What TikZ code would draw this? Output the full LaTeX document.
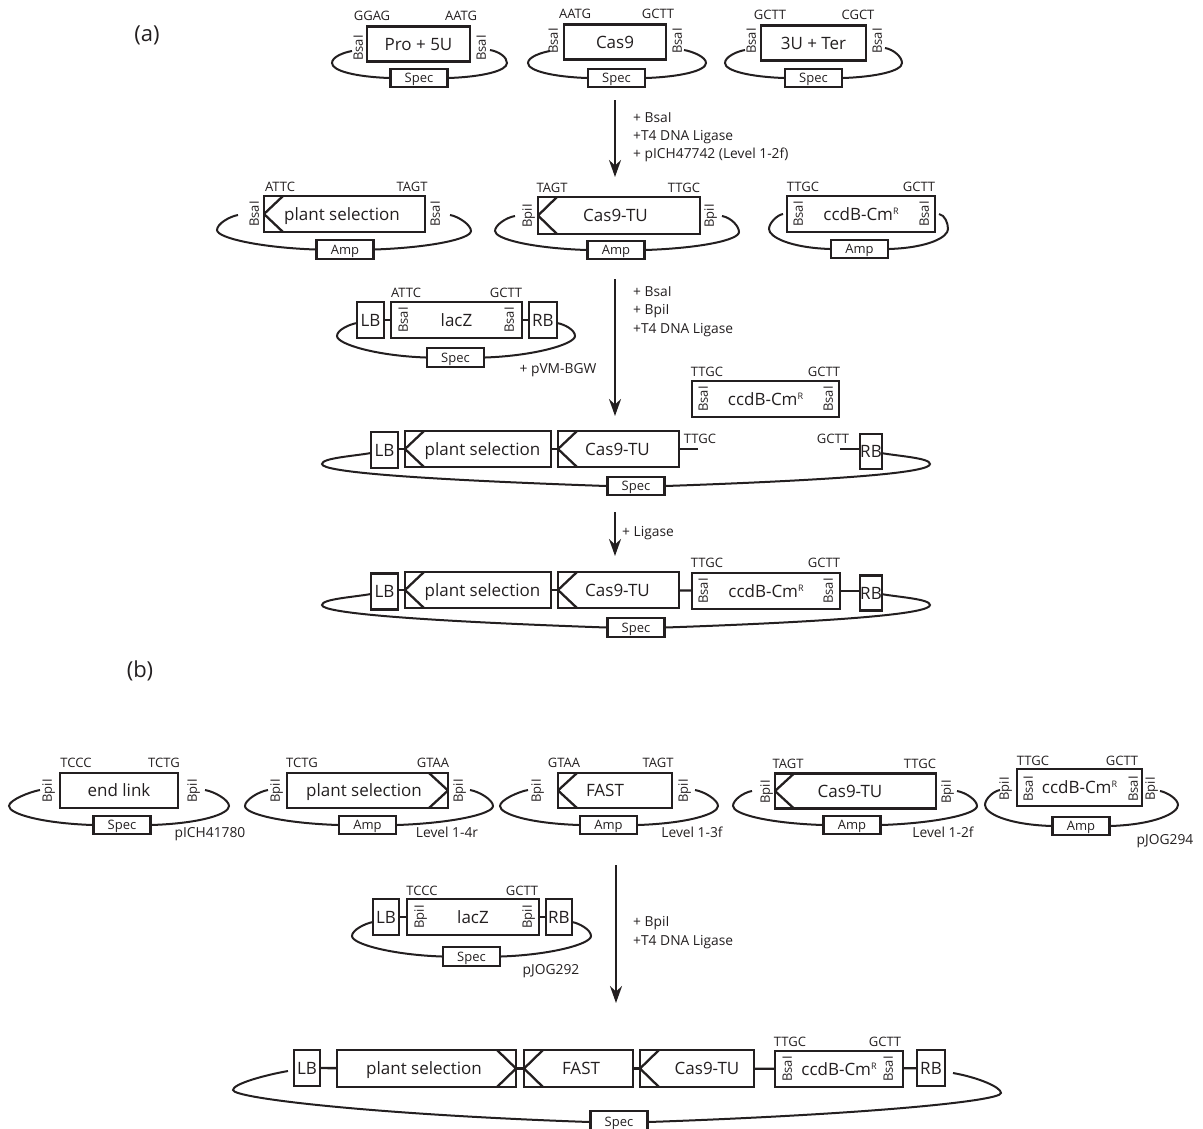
\documentclass[tikz,border=0pt]{standalone}
\usepackage{fontspec}
\setmainfont{Open Sans}
\usepackage{xcolor}
\usetikzlibrary{arrows.meta, calc}
\definecolor{inkblack}{HTML}{231F20}

\tikzset{
    box/.style={draw=inkblack, line width=2.3pt, rectangle, inner sep=0pt, text=inkblack, text height=12pt, text depth=0pt, font=\fontsize{17}{17}\selectfont},
    marker/.style={box, minimum width=57, minimum height=18.5, text height=9.5pt, font=\fontsize{13}{13}\selectfont},
    site/.style={text=inkblack, inner sep=0pt, text height=9.5pt, text depth=0pt, font=\fontsize{13}{13}\selectfont},
    enzyme/.style={site, rotate=90},
    remark/.style={site, font=\fontsize{13.8}{14}\selectfont},
    step note/.style={remark, anchor=west},
    bone/.style={draw=inkblack, line width=2pt},
    link/.style={draw=inkblack, line width=2.3pt},
    flow/.style={draw=inkblack, line width=2.2pt, -{Stealth[length=17pt,width=12pt]}},
    chevleft/.style={path picture={\draw[inkblack, line width=2.3pt]
        ([xshift=19pt]path picture bounding box.north west) -- (path picture bounding box.west)
        -- ([xshift=19pt]path picture bounding box.south west);}},
    chevright/.style={path picture={\draw[inkblack, line width=2.3pt]
        ([xshift=-19pt]path picture bounding box.north east) -- (path picture bounding box.east)
        -- ([xshift=-19pt]path picture bounding box.south east);}},
}

% text moved off the centre of its box
\newcommand{\off}[2]{\makebox[0pt]{\hspace*{#1}\hspace*{#1}#2}}
\newcommand{\cmr}{ccdB-Cm\raisebox{6pt}{\fontsize{9}{9}\selectfont R}}

% marker node, left end, left turn, right end, right turn, handle at marker, handle at end
\newcommand{\plasmidring}[7]{
    \coordinate (#1ll) at (#2);
    \coordinate (#1lt) at (#3);
    \coordinate (#1rr) at (#4);
    \coordinate (#1rt) at (#5);
    \draw[bone] (#1ll) to[out=190,in=90,out distance=#7,in distance=6pt] (#1lt)
        to[out=-90,in=178,out distance=8pt,in distance=#6] (#1.west);
    \draw[bone] (#1rr) to[out=-10,in=90,out distance=#7,in distance=6pt] (#1rt)
        to[out=-90,in=2,out distance=8pt,in distance=#6] (#1.east);
}

\begin{document}
\begin{tikzpicture}[x=1pt, y=-1pt]
    \useasboundingbox (0,0) rectangle (1203,1128);

    % Panel letters
    \node[site, text height=16pt, font=\fontsize{22}{22}\selectfont] (panela) at (147,33) {(a)};
    \node[site, text height=16pt, font=\fontsize{22}{22}\selectfont] (panelb) at (140,669) {(b)};

    % Level 0 modules
    \node[box, minimum width=103, minimum height=35] (pro) at (418.5,44) {Pro + 5U};
    \node[box, minimum width=102, minimum height=35] (casn) at (615,42) {Cas9};
    \node[box, minimum width=105, minimum height=35] (ter) at (813.5,43) {3U + Ter};
    \node[marker] (speca) at (419,78) {Spec};
    \node[marker] (specb) at (616.5,78) {Spec};
    \node[marker] (specc) at (813.5,78) {Spec};
    \plasmidring{speca}{352,51}{332,63}{490,50}{507,63}{33pt}{9pt}
    \plasmidring{specb}{550,51}{528,63}{684,50}{706,63}{33pt}{9pt}
    \plasmidring{specc}{745,50}{725,63}{885,48}{902,63}{33pt}{9pt}

    % First assembly
    \coordinate (flowas) at (615,100);
    \coordinate (flowae) at (615,177);
    \draw[flow] (flowas) -- (flowae);
    \node[step note] (notea) at (633,118) {+ BsaI};
    \node[step note] (noteb) at (633,136) {+T4 DNA Ligase};
    \node[step note] (notec) at (633,154) {+ pICH47742 (Level 1-2f)};

    % Level 1 modules
    \node[box, chevleft, minimum width=161, minimum height=36] (plant) at (344.5,214) {\off{-2.5pt}{plant selection}};
    \node[box, chevleft, minimum width=162, minimum height=37] (castu) at (619,215.5) {\off{-3.5pt}{Cas9-TU}};
    \node[box, minimum width=148, minimum height=36] (ccdb) at (861,214) {\cmr};
    \node[marker] (ampa) at (345,249.5) {Amp};
    \node[marker] (ampb) at (616,250) {Amp};
    \node[marker] (ampc) at (859.5,249) {Amp};
    \plasmidring{ampa}{238,215}{217,230}{450,215}{471,231}{55pt}{9pt}
    \plasmidring{ampb}{515,216}{495,231}{722,216}{739,232}{55pt}{9pt}
    \plasmidring{ampc}{783,214}{769,229}{939,214}{948,229}{40pt}{6pt}

    % Second assembly
    \coordinate (flowbs) at (615,279);
    \coordinate (flowbe) at (615,416);
    \draw[flow] (flowbs) -- (flowbe);
    \node[step note] (noted) at (633,292) {+ BsaI};
    \node[step note] (notee) at (633,310) {+ BpiI};
    \node[step note] (notef) at (633,329) {+T4 DNA Ligase};

    % Level 2 acceptor
    \node[box, minimum width=27, minimum height=36] (lba) at (370.5,320) {LB};
    \node[box, minimum width=131, minimum height=36] (lacza) at (456.5,320) {lacZ};
    \node[box, minimum width=28, minimum height=36] (rba) at (543,320) {RB};
    \node[marker] (specd) at (455.5,357.5) {Spec};
    \draw[link] (lba) -- (lacza);
    \draw[link] (lacza) -- (rba);
    \plasmidring{specd}{357,323}{337,336}{557,323}{575,336}{50pt}{8pt}
    \node[remark] (pvm) at (558,369) {+ pVM-BGW};

    % Loose ccdB insert
    \node[box, minimum width=147, minimum height=36] (ccdi) at (765.5,399) {\cmr};

    % Open level 2 vector
    \node[box, minimum width=27, minimum height=36] (lbb) at (384.5,450) {LB};
    \node[box, chevleft, minimum width=146, minimum height=36] (plantb) at (478,449) {\off{4.5pt}{plant selection}};
    \node[box, chevleft, minimum width=121, minimum height=36] (castub) at (618.5,449) {\off{-1pt}{Cas9-TU}};
    \node[box, minimum width=22, minimum height=35] (rbb) at (871,451.5) {RB};
    \node[marker] (spece) at (636,486) {Spec};
    \coordinate (stuba) at (698,449);
    \coordinate (stubb) at (840,449);
    \draw[link] (plantb.west -| lbb.east) -- (plantb.west);
    \draw[link] (plantb) -- (castub);
    \draw[link] (castub.east) -- (stuba);
    \draw[link] (stubb) -- (stubb -| rbb.west);
    \plasmidring{spece}{371,453}{322,464}{881,453}{930,464}{190pt}{18pt}
    \node[site] (ttgco) at (700,439) {TTGC};
    \node[site] (gctto) at (833,439) {GCTT};

    % Ligation
    \coordinate (flowcs) at (615,512);
    \coordinate (flowce) at (615,556);
    \draw[flow] (flowcs) -- (flowce);
    \node[step note] (noteg) at (622,532) {+ Ligase};

    % Closed level 2 vector
    \node[box, minimum width=27, minimum height=36] (lbc) at (384.5,591.5) {LB};
    \node[box, chevleft, minimum width=146, minimum height=36] (plantc) at (478,590) {\off{4.5pt}{plant selection}};
    \node[box, chevleft, minimum width=121, minimum height=36] (castuc) at (618.5,590) {\off{-1pt}{Cas9-TU}};
    \node[box, minimum width=148, minimum height=36] (ccdc) at (766,591) {\cmr};
    \node[box, minimum width=22, minimum height=35] (rbc) at (871,593) {RB};
    \node[marker] (specf) at (636,627.5) {Spec};
    \draw[link] (plantc.west -| lbc.east) -- (plantc.west);
    \draw[link] (plantc) -- (castuc);
    \draw[link] (castuc) -- (ccdc);
    \draw[link] (ccdc.east) -- (ccdc.east -| rbc.west);
    \plasmidring{specf}{371,594}{322,605}{881,594}{930,605}{190pt}{18pt}

    % Panel b, donor row
    \node[box, minimum width=118, minimum height=35] (endl) at (119,790.5) {end link};
    \node[box, chevright, minimum width=161, minimum height=35] (plantd) at (367.5,790.5) {\off{-3.5pt}{plant selection}};
    \node[box, chevleft, minimum width=114, minimum height=35] (fast) at (615,790.5) {\off{-10pt}{FAST}};
    \node[box, chevleft, minimum width=161, minimum height=35] (castud) at (855.5,791) {\off{-5.5pt}{Cas9-TU}};
    \node[box, minimum width=125, minimum height=37] (ccdd) at (1079.5,787.5) {\cmr};
    \node[marker] (specg) at (122,825) {Spec};
    \node[marker] (ampd) at (367.5,825) {Amp};
    \node[marker] (ampe) at (608.5,825) {Amp};
    \node[marker] (ampf) at (852,825) {Amp};
    \node[marker] (ampg) at (1081,826) {Amp};
    \plasmidring{specg}{40,790}{9,806}{205,790}{229,806}{50pt}{10pt}
    \plasmidring{ampd}{268,790}{245,806}{470,790}{493,806}{55pt}{10pt}
    \plasmidring{ampe}{528,790}{500,806}{695,790}{718,806}{50pt}{10pt}
    \plasmidring{ampf}{752,791}{733,806}{957,791}{977,806}{55pt}{9pt}
    \plasmidring{ampg}{1000,790}{985,805}{1160,791}{1178,805}{45pt}{7pt}
    \node[remark] (picha) at (210,833) {pICH41780};
    \node[remark] (levela) at (447,833) {Level 1-4r};
    \node[remark] (levelb) at (692,833) {Level 1-3f};
    \node[remark] (levelc) at (943,833) {Level 1-2f};
    \node[remark] (jogb) at (1165,840) {pJOG294};

    % Third assembly
    \coordinate (flowds) at (616,865);
    \coordinate (flowde) at (616,1003);
    \draw[flow] (flowds) -- (flowde);
    \node[step note] (noteh) at (633,922) {+ BpiI};
    \node[step note] (notei) at (633,941) {+T4 DNA Ligase};

    % Panel b acceptor
    \node[box, minimum width=26, minimum height=36] (lbd) at (386,917) {LB};
    \node[box, minimum width=132, minimum height=36] (laczb) at (473,917) {lacZ};
    \node[box, minimum width=26, minimum height=36] (rbd) at (559,917) {RB};
    \node[marker] (spech) at (471.5,956.5) {Spec};
    \draw[link] (lbd) -- (laczb);
    \draw[link] (laczb) -- (rbd);
    \plasmidring{spech}{373,922}{352,936}{572,922}{591,936}{50pt}{8pt}
    \node[remark] (joga) at (551,970) {pJOG292};

    % Panel b product
    \node[box, minimum width=26, minimum height=36] (lbe) at (307,1068) {LB};
    \node[box, chevright, minimum width=179, minimum height=37] (plante) at (426.5,1068.5) {\off{-2.5pt}{plant selection}};
    \node[box, chevleft, minimum width=109, minimum height=37] (faste) at (578.5,1068.5) {\off{2.5pt}{FAST}};
    \node[box, chevleft, minimum width=114, minimum height=37] (castue) at (697,1068.5) {\off{10pt}{Cas9-TU}};
    \node[box, minimum width=128, minimum height=36] (ccde) at (839,1069) {\cmr};
    \node[box, minimum width=28, minimum height=36] (rbe) at (931,1068) {RB};
    \node[marker, minimum height=22] (speci) at (619,1122) {Spec};
    \draw[link] (lbe) -- (plante);
    \draw[link] (plante) -- (faste);
    \draw[link] (faste) -- (castue);
    \draw[link] (castue) -- (ccde);
    \draw[link] (ccde) -- (rbe);
    \plasmidring{speci}{288,1071}{233,1090}{953,1073}{1001,1093}{220pt}{25pt}

    % Overhang labels
    \foreach \n/\x/\y/\t in {ga/372/16/GGAG, gb/461/16/AATG, gc/575/14/AATG, gd/658/14/GCTT, ge/770/15/GCTT, gf/858/15/CGCT,
        gg/280/187/ATTC, gh/412/187/TAGT, gi/552/188/TAGT, gj/684/188/TTGC, gk/803/187/TTGC, gl/919/187/GCTT,
        gm/406/293/ATTC, gn/506/293/GCTT, go/707/372/TTGC, gp/824/372/GCTT, gq/707/563/TTGC, gr/824/563/GCTT,
        gs/76/763/TCCC, gt/164/763/TCTG, gu/302/763/TCTG, gv/433/763/GTAA, gw/564/763/GTAA, gx/658/763/TAGT,
        gy/788/764/TAGT, gz/920/764/TTGC, hb/1033/761/TTGC, hc/1122/761/GCTT, hd/422/891/TCCC, he/522/891/GCTT,
        hf/790/1042/TTGC, hg/885/1042/GCTT}
        \node[site] (\n) at (\x,\y) {\t};

    % Enzyme labels
    \foreach \n/\x/\y/\t in {ea/358/48/BsaI, eb/481/48/BsaI, ec/553/41/BsaI, ed/677/41/BsaI, ee/751/41/BsaI, ef/877/41/BsaI,
        eg/254/214/BsaI, eh/435/214/BsaI, ei/527/216/BpiI, ej/709/216/BpiI, ek/798/214/BsaI, el/924/214/BsaI,
        em/403/320/BsaI, en/509/320/BsaI, eo/703/399/BsaI, ep/828/399/BsaI, eq/703/591/BsaI, er/828/591/BsaI,
        es/47/791/BpiI, et/192/791/BpiI, eu/275/791/BpiI, ev/458/791/BpiI, ew/536/791/BpiI, ex/683/791/BpiI,
        ey/765/792/BpiI, ez/946/792/BpiI, fa/1004/789/BpiI, fb/1028/789/BsaI, fc/1133/789/BsaI, fd/1150/789/BpiI,
        fe/419/917/BpiI, ff/527/917/BpiI, fg/787/1069/BsaI, fh/888/1069/BsaI}
        \node[enzyme] (\n) at (\x,\y) {\t};
\end{tikzpicture}
\end{document}
